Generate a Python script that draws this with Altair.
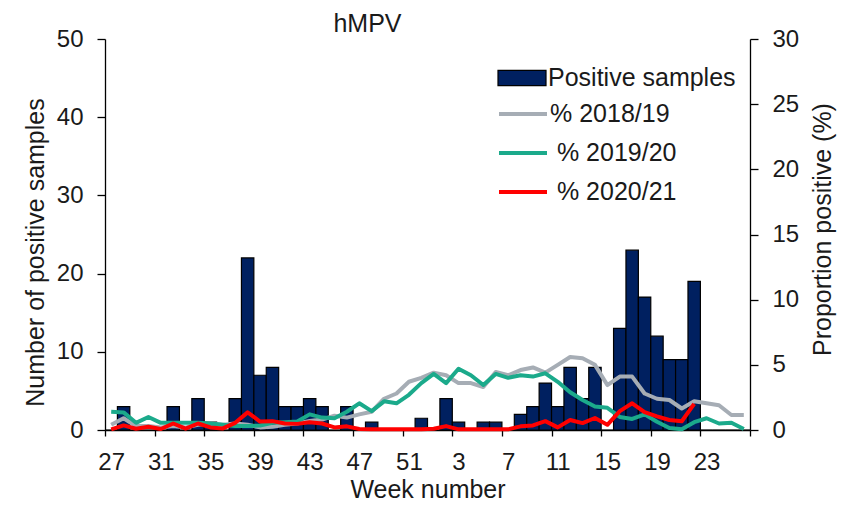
import json
import altair as alt
import pandas as pd

# ---- data ----
weeks = list(range(27, 53)) + list(range(1, 27))
positive_samples = [0, 3, 0, 0, 0, 3, 0, 4, 1, 0, 4, 22, 7, 8, 3, 3, 4, 3, 0, 3, 0, 1, 0, 0, 0, 1.5,
                    0, 4, 1, 0, 1, 1, 0, 2, 3, 6, 3, 8, 4, 8, 0, 13, 23, 17, 12, 9, 9, 19, 0, 0, 0, 0]
pct_2018_19 = [0.4, 0.9, 0.3, 0.3, 0.2, 0.3, 0.2, 0.4, 0.5, 0.4, 0.5, 0.4, 0.2, 0.25, 0.4, 0.5, 0.7, 0.8,
               1.1, 0.95, 1.2, 1.4, 2.4, 2.8, 3.7, 4.0, 4.4, 4.2, 3.6, 3.6, 3.3, 4.45, 4.2, 4.6, 4.8, 4.4,
               5.0, 5.6, 5.5, 5.0, 3.45, 4.1, 4.1, 2.8, 2.4, 2.3, 1.65, 2.2, 2.05, 1.9, 1.15, 1.15]
pct_2019_20 = [1.4, 1.35, 0.55, 1.0, 0.55, 0.55, 0.55, 0.55, 0.5, 0.4, 0.3, 0.3, 0.35, 0.55, 0.6, 0.65, 1.2,
               0.95, 0.9, 1.4, 2.05, 1.45, 2.2, 2.05, 2.7, 3.6, 4.3, 3.6, 4.7, 4.2, 3.45, 4.3, 4.0, 4.2, 4.1,
               4.35, 3.7, 2.9, 2.3, 1.8, 1.7, 1.0, 0.85, 1.2, 0.64, 0.15, 0.05, 0.6, 0.9, 0.5, 0.56, 0.08]
pct_2020_21 = [0.05, 0.35, 0.1, 0.25, 0.08, 0.5, 0.1, 0.5, 0.2, 0.12, 0.55, 1.35, 0.65, 0.68, 0.5, 0.47, 0.6,
               0.5, 0.2, 0.28, 0.08, 0.05, 0.05, 0.05, 0.05, 0.05, 0.1, 0.3, 0.05, 0.05, 0.05, 0.05, 0.05,
               0.28, 0.35, 0.68, 0.2, 0.77, 0.53, 0.92, 0.4, 1.45, 2.05, 1.37, 1.05, 0.77, 0.67, 2.0,
               None, None, None, None]
tick_labels = ["27", "31", "35", "39", "43", "47", "51", "3", "7", "11", "15", "19", "23", ""]
bar_name = "Positive samples"
series_names = ["% 2018/19", "\u200b\u00a0% 2019/20", "\u200b\u00a0% 2020/21"]
series_colors = ["#A6ADB5", "#1BAA8B", "#FF0000"]
bar_color = "#002060"

# ---- tables ----
bar_df = pd.DataFrame({
    "start": list(range(len(weeks))),
    "end": [i + 1 for i in range(len(weeks))],
    "week": weeks,
    "count": positive_samples,
    "base": 0,
    "series": bar_name,
})
rows = []
for name, vals in zip(series_names, [pct_2018_19, pct_2019_20, pct_2020_21]):
    for i, v in enumerate(vals):
        if v is not None:
            rows.append({"mid": i + 0.5, "week": weeks[i], "pct": v, "series": name})
line_df = pd.DataFrame(rows)

FONT = "Liberation Sans"
TXT = "#1a1a1a"
n = len(weeks)
band_px = 645 / n

x_scale = alt.Scale(domain=[0, n], nice=False, zero=False)
x_axis = alt.Axis(
    values=list(range(0, n + 1, 4)),
    labelExpr=json.dumps(tick_labels) + "[datum.value / 4]",
    labelOffset=band_px / 2,
    labelFlush=False, labelOverlap=False,
    tickSize=6, labelPadding=14, grid=False,
    title="Week number", titleX=322.5, titleY=59, titleBaseline="middle",
    titleAlign="center",
)

bars = alt.Chart(bar_df).mark_bar(stroke="black", strokeWidth=1.2).encode(
    x=alt.X("start:Q", scale=x_scale, axis=x_axis),
    x2="end:Q",
    y=alt.Y("count:Q", scale=alt.Scale(domain=[0, 50], nice=False, padding=0),
            axis=alt.Axis(orient="left", values=[0, 10, 20, 30, 40, 50], tickSize=8, labelPadding=14,
                          grid=False, title="Number of positive samples", titleX=-70, titleY=213,
                          titleAngle=270, titleAlign="center", titleBaseline="middle")),
    y2="base:Q",
    fill=alt.Fill("series:N", scale=alt.Scale(domain=[bar_name], range=[bar_color]),
                  legend=alt.Legend(title=None, orient="none", legendX=392, legendY=14,
                                    symbolType="M-1,-0.32H1V0.32H-1Z", symbolSize=2304,
                                    symbolStrokeColor="black", symbolStrokeWidth=1.2,
                                    labelOffset=1, labelLimit=0, padding=0)),
)

lines = alt.Chart(line_df).mark_line(strokeWidth=4, strokeJoin="round").encode(
    x=alt.X("mid:Q", scale=x_scale, axis=x_axis),
    y=alt.Y("pct:Q", scale=alt.Scale(domain=[0, 30], nice=False),
            axis=alt.Axis(orient="right", values=[0, 5, 10, 15, 20, 25, 30], tickSize=8, labelPadding=14,
                          grid=False, title="Proportion positive (%)", titleX=72, titleY=190,
                          titleAngle=270, titleAlign="center", titleBaseline="middle")),
    stroke=alt.Stroke("series:N", scale=alt.Scale(domain=series_names, range=series_colors),
                      legend=alt.Legend(title=None, orient="none", legendX=392, legendY=49,
                                        symbolType="stroke", symbolSize=2304, symbolStrokeWidth=4,
                                        labelOffset=1, labelLimit=0, rowPadding=-1, padding=0)),
)

chart = alt.layer(bars, lines).resolve_scale(y="independent").properties(
    width=645, height=391,
    title=alt.TitleParams("hMPV", fontSize=25, fontWeight="normal", font=FONT, color=TXT,
                          anchor="middle", dx=-60, dy=14),
    autosize=alt.AutoSizeParams(type="none"),
    padding={"left": 97, "top": 31, "right": 92, "bottom": 73},
).configure_view(stroke=None).configure_axis(
    domainColor="black", domainWidth=1.3, tickColor="black", tickWidth=1.3,
    labelFont=FONT, labelFontSize=24, labelColor=TXT,
    titleFont=FONT, titleFontSize=25, titleColor=TXT, titleFontWeight="normal",
).configure_legend(
    labelFont=FONT, labelFontSize=25, labelColor=TXT,
)

chart.save("out.html", embed_options={"renderer": "svg", "actions": False})
